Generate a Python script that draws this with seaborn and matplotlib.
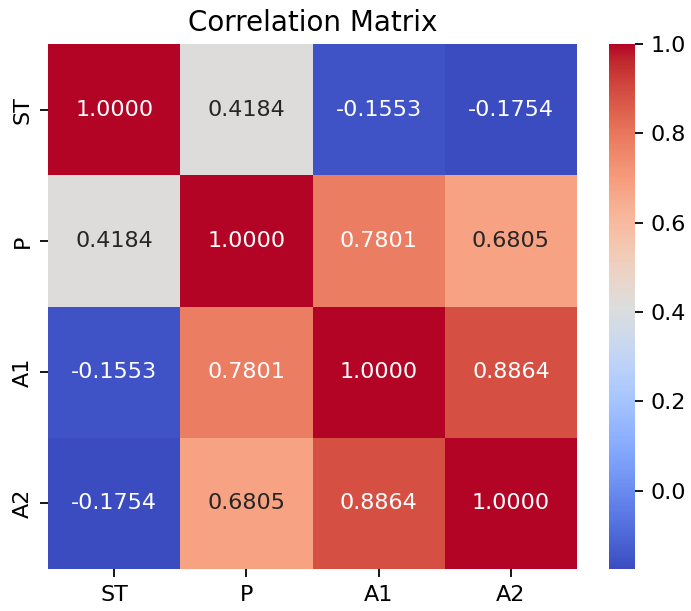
import numpy as np
import pandas as pd
import matplotlib
matplotlib.use('Agg')
import matplotlib.pyplot as plt
import seaborn as sns

# ---------- dados ----------
variaveis = ['ST', 'P', 'A1', 'A2']
corr_st = [1.0000, 0.4184, -0.1553, -0.1754]
corr_p  = [0.4184, 1.0000, 0.7801, 0.6805]
corr_a1 = [-0.1553, 0.7801, 1.0000, 0.8864]
corr_a2 = [-0.1754, 0.6805, 0.8864, 1.0000]

df_corr = pd.DataFrame([corr_st, corr_p, corr_a1, corr_a2],
                       index=variaveis, columns=variaveis)

# ---------- figura ----------
DPI = 160
fig = plt.figure(figsize=(691 / DPI, 611 / DPI), dpi=DPI)
ax  = fig.add_axes([48 / 691, 1 - 569 / 611, 529 / 691, 525 / 611])
cax = fig.add_axes([609 / 691, 1 - 569 / 611, 26 / 691, 525 / 611])

sns.heatmap(df_corr, annot=True, fmt='.4f', cmap='coolwarm',
            ax=ax, cbar_ax=cax, annot_kws={'fontsize': 10})
ax.set_title('Correlation Matrix', fontsize=12.5)
cax.tick_params(labelsize=10)

fig.savefig('out.png', dpi=DPI)
plt.close()
